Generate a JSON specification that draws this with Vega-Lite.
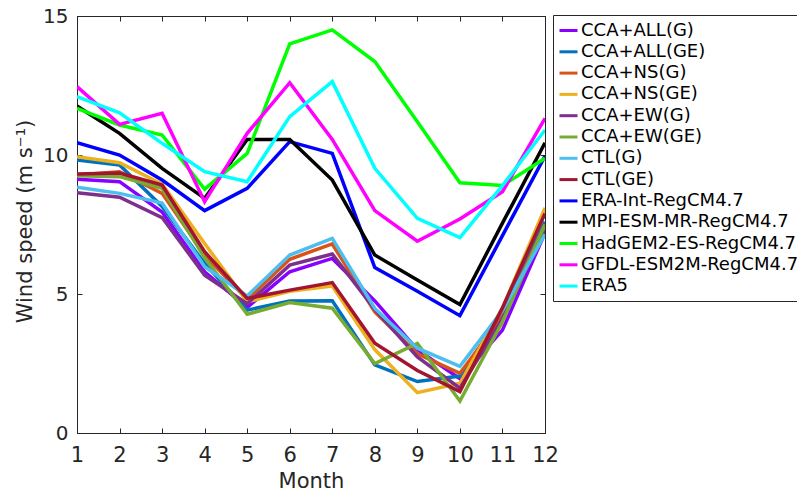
{
  "$schema": "https://vega.github.io/schema/vega-lite/v6.json",
  "width": 468,
  "height": 417,
  "autosize": {"type": "none"},
  "padding": {"left": 77, "top": 16, "right": 252, "bottom": 59},
  "background": "white",
  "config": {
    "view": {"stroke": "#262626", "strokeWidth": 1},
    "font": "DejaVu Sans",
    "axis": {"grid": false, "domain": true, "domainColor": "#262626", "domainWidth": 1, "tickColor": "#262626", "labelColor": "#262626", "titleColor": "#262626", "labelFont": "DejaVu Sans", "titleFont": "DejaVu Sans", "titleFontWeight": "normal", "zindex": 1}
  },
  "data": {"values": [
    {"s":"CCA+ALL(G)","m":1,"v":9.13},{"s":"CCA+ALL(G)","m":2,"v":9.04},{"s":"CCA+ALL(G)","m":3,"v":7.95},{"s":"CCA+ALL(G)","m":4,"v":5.8},{"s":"CCA+ALL(G)","m":5,"v":4.52},{"s":"CCA+ALL(G)","m":6,"v":5.8},{"s":"CCA+ALL(G)","m":7,"v":6.28},{"s":"CCA+ALL(G)","m":8,"v":4.75},{"s":"CCA+ALL(G)","m":9,"v":3.0},{"s":"CCA+ALL(G)","m":10,"v":1.95},{"s":"CCA+ALL(G)","m":11,"v":3.7},{"s":"CCA+ALL(G)","m":12,"v":7.2},
    {"s":"CCA+ALL(GE)","m":1,"v":9.82},{"s":"CCA+ALL(GE)","m":2,"v":9.64},{"s":"CCA+ALL(GE)","m":3,"v":8.15},{"s":"CCA+ALL(GE)","m":4,"v":6.1},{"s":"CCA+ALL(GE)","m":5,"v":4.42},{"s":"CCA+ALL(GE)","m":6,"v":4.75},{"s":"CCA+ALL(GE)","m":7,"v":4.76},{"s":"CCA+ALL(GE)","m":8,"v":2.45},{"s":"CCA+ALL(GE)","m":9,"v":1.85},{"s":"CCA+ALL(GE)","m":10,"v":2.05},{"s":"CCA+ALL(GE)","m":11,"v":4.3},{"s":"CCA+ALL(GE)","m":12,"v":7.6},
    {"s":"CCA+NS(G)","m":1,"v":9.28},{"s":"CCA+NS(G)","m":2,"v":9.4},{"s":"CCA+NS(G)","m":3,"v":8.62},{"s":"CCA+NS(G)","m":4,"v":6.4},{"s":"CCA+NS(G)","m":5,"v":4.8},{"s":"CCA+NS(G)","m":6,"v":6.25},{"s":"CCA+NS(G)","m":7,"v":6.8},{"s":"CCA+NS(G)","m":8,"v":4.36},{"s":"CCA+NS(G)","m":9,"v":2.85},{"s":"CCA+NS(G)","m":10,"v":2.15},{"s":"CCA+NS(G)","m":11,"v":4.2},{"s":"CCA+NS(G)","m":12,"v":7.5},
    {"s":"CCA+NS(GE)","m":1,"v":9.94},{"s":"CCA+NS(GE)","m":2,"v":9.72},{"s":"CCA+NS(GE)","m":3,"v":8.95},{"s":"CCA+NS(GE)","m":4,"v":6.82},{"s":"CCA+NS(GE)","m":5,"v":4.72},{"s":"CCA+NS(GE)","m":6,"v":5.1},{"s":"CCA+NS(GE)","m":7,"v":5.29},{"s":"CCA+NS(GE)","m":8,"v":3.0},{"s":"CCA+NS(GE)","m":9,"v":1.45},{"s":"CCA+NS(GE)","m":10,"v":1.79},{"s":"CCA+NS(GE)","m":11,"v":4.5},{"s":"CCA+NS(GE)","m":12,"v":8.1},
    {"s":"CCA+EW(G)","m":1,"v":8.64},{"s":"CCA+EW(G)","m":2,"v":8.48},{"s":"CCA+EW(G)","m":3,"v":7.75},{"s":"CCA+EW(G)","m":4,"v":5.68},{"s":"CCA+EW(G)","m":5,"v":4.65},{"s":"CCA+EW(G)","m":6,"v":6.04},{"s":"CCA+EW(G)","m":7,"v":6.44},{"s":"CCA+EW(G)","m":8,"v":4.45},{"s":"CCA+EW(G)","m":9,"v":2.74},{"s":"CCA+EW(G)","m":10,"v":1.61},{"s":"CCA+EW(G)","m":11,"v":4.1},{"s":"CCA+EW(G)","m":12,"v":7.3},
    {"s":"CCA+EW(GE)","m":1,"v":9.25},{"s":"CCA+EW(GE)","m":2,"v":9.22},{"s":"CCA+EW(GE)","m":3,"v":8.8},{"s":"CCA+EW(GE)","m":4,"v":6.3},{"s":"CCA+EW(GE)","m":5,"v":4.27},{"s":"CCA+EW(GE)","m":6,"v":4.69},{"s":"CCA+EW(GE)","m":7,"v":4.49},{"s":"CCA+EW(GE)","m":8,"v":2.5},{"s":"CCA+EW(GE)","m":9,"v":3.22},{"s":"CCA+EW(GE)","m":10,"v":1.15},{"s":"CCA+EW(GE)","m":11,"v":4.0},{"s":"CCA+EW(GE)","m":12,"v":7.5},
    {"s":"CTL(G)","m":1,"v":8.84},{"s":"CTL(G)","m":2,"v":8.62},{"s":"CTL(G)","m":3,"v":8.27},{"s":"CTL(G)","m":4,"v":5.98},{"s":"CTL(G)","m":5,"v":4.93},{"s":"CTL(G)","m":6,"v":6.4},{"s":"CTL(G)","m":7,"v":7.0},{"s":"CTL(G)","m":8,"v":4.48},{"s":"CTL(G)","m":9,"v":3.05},{"s":"CTL(G)","m":10,"v":2.4},{"s":"CTL(G)","m":11,"v":4.4},{"s":"CTL(G)","m":12,"v":7.15},
    {"s":"CTL(GE)","m":1,"v":9.32},{"s":"CTL(GE)","m":2,"v":9.35},{"s":"CTL(GE)","m":3,"v":8.92},{"s":"CTL(GE)","m":4,"v":6.52},{"s":"CTL(GE)","m":5,"v":4.84},{"s":"CTL(GE)","m":6,"v":5.14},{"s":"CTL(GE)","m":7,"v":5.41},{"s":"CTL(GE)","m":8,"v":3.23},{"s":"CTL(GE)","m":9,"v":2.25},{"s":"CTL(GE)","m":10,"v":1.49},{"s":"CTL(GE)","m":11,"v":4.5},{"s":"CTL(GE)","m":12,"v":7.9},
    {"s":"ERA-Int-RegCM4.7","m":1,"v":10.44},{"s":"ERA-Int-RegCM4.7","m":2,"v":10.0},{"s":"ERA-Int-RegCM4.7","m":3,"v":9.1},{"s":"ERA-Int-RegCM4.7","m":4,"v":8.0},{"s":"ERA-Int-RegCM4.7","m":5,"v":8.8},{"s":"ERA-Int-RegCM4.7","m":6,"v":10.48},{"s":"ERA-Int-RegCM4.7","m":7,"v":10.06},{"s":"ERA-Int-RegCM4.7","m":8,"v":5.95},{"s":"ERA-Int-RegCM4.7","m":9,"v":5.1},{"s":"ERA-Int-RegCM4.7","m":10,"v":4.22},{"s":"ERA-Int-RegCM4.7","m":11,"v":7.1},{"s":"ERA-Int-RegCM4.7","m":12,"v":9.96},
    {"s":"MPI-ESM-MR-RegCM4.7","m":1,"v":11.76},{"s":"MPI-ESM-MR-RegCM4.7","m":2,"v":10.78},{"s":"MPI-ESM-MR-RegCM4.7","m":3,"v":9.52},{"s":"MPI-ESM-MR-RegCM4.7","m":4,"v":8.44},{"s":"MPI-ESM-MR-RegCM4.7","m":5,"v":10.56},{"s":"MPI-ESM-MR-RegCM4.7","m":6,"v":10.56},{"s":"MPI-ESM-MR-RegCM4.7","m":7,"v":9.1},{"s":"MPI-ESM-MR-RegCM4.7","m":8,"v":6.4},{"s":"MPI-ESM-MR-RegCM4.7","m":9,"v":5.5},{"s":"MPI-ESM-MR-RegCM4.7","m":10,"v":4.62},{"s":"MPI-ESM-MR-RegCM4.7","m":11,"v":7.55},{"s":"MPI-ESM-MR-RegCM4.7","m":12,"v":10.44},
    {"s":"HadGEM2-ES-RegCM4.7","m":1,"v":11.68},{"s":"HadGEM2-ES-RegCM4.7","m":2,"v":11.08},{"s":"HadGEM2-ES-RegCM4.7","m":3,"v":10.72},{"s":"HadGEM2-ES-RegCM4.7","m":4,"v":8.77},{"s":"HadGEM2-ES-RegCM4.7","m":5,"v":10.06},{"s":"HadGEM2-ES-RegCM4.7","m":6,"v":14.0},{"s":"HadGEM2-ES-RegCM4.7","m":7,"v":14.5},{"s":"HadGEM2-ES-RegCM4.7","m":8,"v":13.36},{"s":"HadGEM2-ES-RegCM4.7","m":9,"v":11.2},{"s":"HadGEM2-ES-RegCM4.7","m":10,"v":9.0},{"s":"HadGEM2-ES-RegCM4.7","m":11,"v":8.9},{"s":"HadGEM2-ES-RegCM4.7","m":12,"v":9.88},
    {"s":"GFDL-ESM2M-RegCM4.7","m":1,"v":12.46},{"s":"GFDL-ESM2M-RegCM4.7","m":2,"v":11.1},{"s":"GFDL-ESM2M-RegCM4.7","m":3,"v":11.5},{"s":"GFDL-ESM2M-RegCM4.7","m":4,"v":8.32},{"s":"GFDL-ESM2M-RegCM4.7","m":5,"v":10.78},{"s":"GFDL-ESM2M-RegCM4.7","m":6,"v":12.6},{"s":"GFDL-ESM2M-RegCM4.7","m":7,"v":10.56},{"s":"GFDL-ESM2M-RegCM4.7","m":8,"v":8.0},{"s":"GFDL-ESM2M-RegCM4.7","m":9,"v":6.9},{"s":"GFDL-ESM2M-RegCM4.7","m":10,"v":7.7},{"s":"GFDL-ESM2M-RegCM4.7","m":11,"v":8.68},{"s":"GFDL-ESM2M-RegCM4.7","m":12,"v":11.32},
    {"s":"ERA5","m":1,"v":12.1},{"s":"ERA5","m":2,"v":11.52},{"s":"ERA5","m":3,"v":10.42},{"s":"ERA5","m":4,"v":9.4},{"s":"ERA5","m":5,"v":9.04},{"s":"ERA5","m":6,"v":11.38},{"s":"ERA5","m":7,"v":12.64},{"s":"ERA5","m":8,"v":9.52},{"s":"ERA5","m":9,"v":7.72},{"s":"ERA5","m":10,"v":7.03},{"s":"ERA5","m":11,"v":8.9},{"s":"ERA5","m":12,"v":10.9}
  ]},
  "layer": [
    {
      "mark": {"type": "line", "strokeWidth": 3.5, "strokeJoin": "miter", "clip": true},
      "encoding": {
        "x": {"field": "m", "type": "quantitative", "scale": {"domain": [1, 12], "nice": false, "zero": false},
          "axis": {"orient": "bottom", "values": [1,2,3,4,5,6,7,8,9,10,11,12], "title": "Month", "labelFontSize": 21, "titleFontSize": 21, "tickSize": -5, "labelPadding": 16, "labelFlush": false, "titleX": 234, "titleY": 48, "titleBaseline": "middle", "titleAlign": "center"}},
        "y": {"field": "v", "type": "quantitative", "scale": {"domain": [0, 15], "nice": false},
          "axis": {"orient": "left", "values": [0, 5, 10, 15], "title": "Wind speed (m s⁻¹)", "labelFontSize": 20, "titleFontSize": 21, "tickSize": -5, "labelPadding": 14, "titleX": -52, "titleY": 205, "titleAngle": 270, "titleBaseline": "middle", "titleAlign": "center"}},
        "color": {"field": "s", "type": "nominal", "sort": null,
          "scale": {"domain": ["CCA+ALL(G)","CCA+ALL(GE)","CCA+NS(G)","CCA+NS(GE)","CCA+EW(G)","CCA+EW(GE)","CTL(G)","CTL(GE)","ERA-Int-RegCM4.7","MPI-ESM-MR-RegCM4.7","HadGEM2-ES-RegCM4.7","GFDL-ESM2M-RegCM4.7","ERA5"],
            "range": ["#8800ff","#0072bd","#d95319","#edb120","#7e2f8e","#77ac30","#4dbeee","#a2142f","#0000ff","#000000","#00ff00","#ff00ff","#00ffff"]},
          "legend": {"orient": "none", "legendX": 476, "legendY": -1, "title": null, "symbolType": "stroke", "symbolSize": 324, "symbolStrokeWidth": 3, "labelFontSize": 18, "labelColor": "#000000", "labelFont": "DejaVu Sans", "labelOffset": 2, "rowPadding": 1.3, "strokeColor": "#262626", "padding": 5, "labelLimit": 400}}
      }
    },
    {
      "mark": {"type": "line", "opacity": 0},
      "encoding": {
        "x": {"field": "m", "type": "quantitative", "scale": {"domain": [1, 12], "nice": false, "zero": false},
          "axis": {"orient": "top", "values": [1,2,3,4,5,6,7,8,9,10,11,12], "title": null, "labels": false, "tickSize": -5}},
        "y": {"field": "v", "type": "quantitative", "scale": {"domain": [0, 15], "nice": false},
          "axis": {"orient": "right", "values": [0, 5, 10, 15], "title": null, "labels": false, "tickSize": -5}},
        "detail": {"field": "s", "type": "nominal"}
      }
    }
  ],
  "resolve": {"scale": {"x": "independent", "y": "independent"}, "axis": {"x": "independent", "y": "independent"}}
}
